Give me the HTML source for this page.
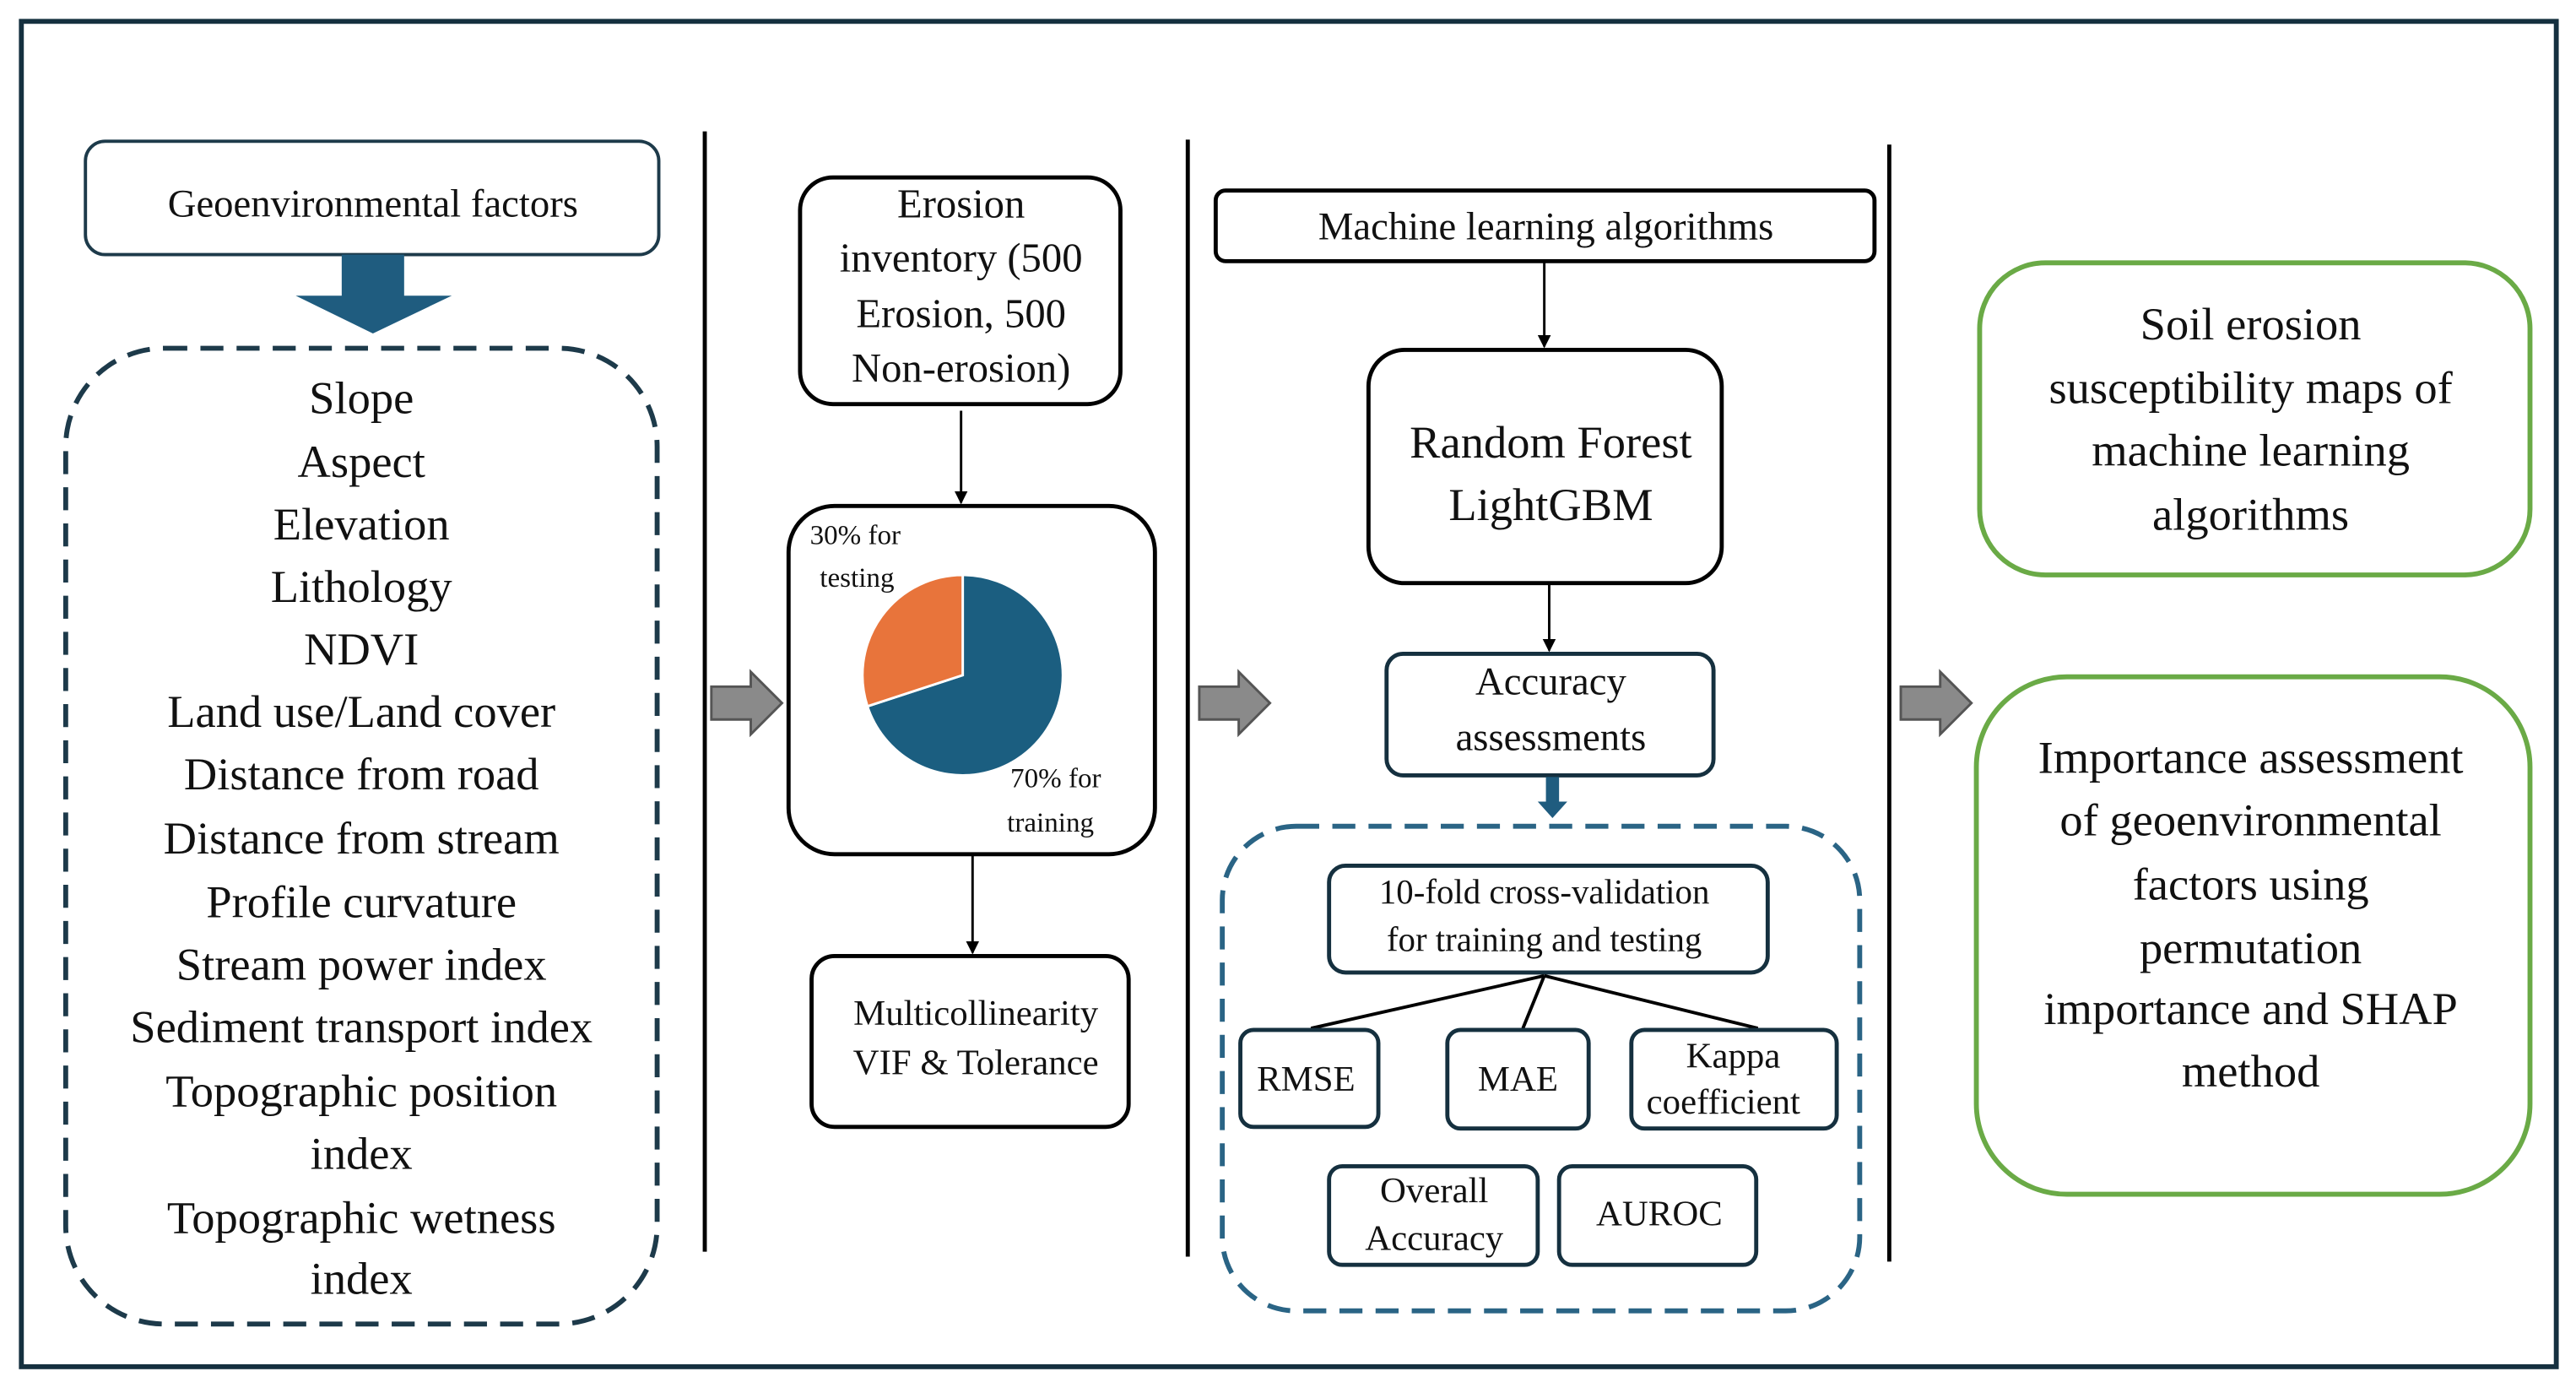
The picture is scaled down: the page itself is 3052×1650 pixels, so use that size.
<!DOCTYPE html>
<html><head><style>html,body{margin:0;padding:0;background:#fff}svg{display:block}text{font-family:"Liberation Serif",serif;fill:#111}</style></head>
<body>
<svg width="3052" height="1650" viewBox="0 0 1568 848" preserveAspectRatio="none" xmlns="http://www.w3.org/2000/svg">
<defs>
<marker id="ah" markerWidth="8" markerHeight="8" refX="7" refY="4" orient="auto" markerUnits="userSpaceOnUse"><path d="M0,0 L8,4 L0,8 Z" fill="#000"/></marker>
<g id="garrow"><path d="M0,-10 L24,-10 L24,-19 L43,0 L24,19 L24,10 L0,10 Z" fill="#8a8a8a" stroke="#555" stroke-width="1.5"/></g>
</defs>
<rect x="13" y="13" width="1543" height="819" fill="none" stroke="#15303f" stroke-width="3"/>
<g stroke="#000" stroke-width="2.5">
<line x1="429" y1="80" x2="429" y2="762"/><line x1="723" y1="85" x2="723" y2="765"/><line x1="1150" y1="88" x2="1150" y2="768"/>
</g>
<g text-anchor="middle" dominant-baseline="central">
<rect x="52" y="86" width="349" height="69" rx="12" fill="none" stroke="#1d3a4a" stroke-width="2"/>
<text x="227" y="124" font-size="24">Geoenvironmental factors</text>
<path d="M208,155 H246 V180 H275 L227,203 L180,180 H208 Z" fill="#1f5c7f"/>
<rect x="40" y="212" width="360" height="594" rx="60" fill="none" stroke="#1d3a4a" stroke-width="3" stroke-dasharray="14 8"/>
<g font-size="28">
<text x="220" y="242">Slope</text><text x="220" y="281">Aspect</text><text x="220" y="319">Elevation</text><text x="220" y="357">Lithology</text><text x="220" y="395">NDVI</text><text x="220" y="433">Land use/Land cover</text><text x="220" y="471">Distance from road</text><text x="220" y="510">Distance from stream</text><text x="220" y="549">Profile curvature</text><text x="220" y="587">Stream power index</text><text x="220" y="625">Sediment transport index</text><text x="220" y="664">Topographic position</text><text x="220" y="702">index</text><text x="220" y="741">Topographic wetness</text><text x="220" y="778">index</text>
</g>
<rect x="487" y="108" width="195" height="138" rx="20" fill="none" stroke="#000" stroke-width="2.5"/>
<g font-size="25"><text x="585" y="124">Erosion</text><text x="585" y="157">inventory (500</text><text x="585" y="191">Erosion, 500</text><text x="585" y="224">Non-erosion)</text></g>
<line x1="585" y1="250" x2="585" y2="306" stroke="#000" stroke-width="1.5" marker-end="url(#ah)"/>
<rect x="480" y="308" width="223" height="212" rx="28" fill="none" stroke="#000" stroke-width="2.5"/>
<path d="M586,411 L586,350 A61,61 0 1 1 528,430 Z" fill="#1b5e80" stroke="#fff" stroke-width="1.5"/>
<path d="M586,411 L528,430 A61,61 0 0 1 586,350 Z" fill="#e8743b" stroke="#fff" stroke-width="1.5"/>
<g font-size="17" text-anchor="start"><text x="493" y="326">30% for</text><text x="499" y="352">testing</text><text x="615" y="474">70% for</text><text x="613" y="501">training</text></g>
<line x1="592" y1="520" x2="592" y2="580" stroke="#000" stroke-width="1.5" marker-end="url(#ah)"/>
<rect x="494" y="582" width="193" height="104" rx="14" fill="none" stroke="#000" stroke-width="2.5"/>
<g font-size="22"><text x="594" y="617">Multicollinearity</text><text x="594" y="647">VIF &amp; Tolerance</text></g>
<use href="#garrow" x="433" y="428"/><use href="#garrow" x="730" y="428"/><use href="#garrow" x="1157" y="428"/>
<rect x="740" y="116" width="401" height="43" rx="6" fill="none" stroke="#000" stroke-width="2.5"/>
<text x="941" y="138" font-size="24">Machine learning algorithms</text>
<line x1="940" y1="160" x2="940" y2="211" stroke="#000" stroke-width="1.5" marker-end="url(#ah)"/>
<rect x="833" y="213" width="215" height="142" rx="22" fill="none" stroke="#000" stroke-width="2.5"/>
<g font-size="28"><text x="944" y="269">Random Forest</text><text x="944" y="307">LightGBM</text></g>
<line x1="943" y1="355" x2="943" y2="396" stroke="#000" stroke-width="1.5" marker-end="url(#ah)"/>
<rect x="844" y="398" width="199" height="74" rx="10" fill="none" stroke="#15303f" stroke-width="2.5"/>
<g font-size="24"><text x="944" y="415">Accuracy</text><text x="944" y="449">assessments</text></g>
<path d="M941,473 H949 V488 H954 L945,498 L936,488 H941 Z" fill="#1f5c7f"/>
<rect x="744" y="503" width="388" height="295" rx="45" fill="none" stroke="#2a6485" stroke-width="3" stroke-dasharray="14 8"/>
<rect x="809" y="527" width="267" height="65" rx="10" fill="none" stroke="#15303f" stroke-width="2.5"/>
<g font-size="21"><text x="940" y="543">10-fold cross-validation</text><text x="940" y="572">for training and testing</text></g>
<g stroke="#000" stroke-width="2"><line x1="940" y1="594" x2="798" y2="626"/><line x1="940" y1="594" x2="927" y2="626"/><line x1="940" y1="594" x2="1070" y2="626"/></g>
<g fill="none" stroke="#15303f" stroke-width="2.5">
<rect x="755" y="627" width="84" height="59" rx="8"/><rect x="881" y="627" width="86" height="60" rx="8"/><rect x="993" y="627" width="125" height="60" rx="8"/>
<rect x="809" y="710" width="127" height="60" rx="8"/><rect x="949" y="710" width="120" height="60" rx="8"/>
</g>
<g font-size="22"><text x="795" y="657">RMSE</text><text x="924" y="657">MAE</text><text x="1055" y="643">Kappa</text><text x="1049" y="671">coefficient</text>
<text x="873" y="725">Overall</text><text x="873" y="754">Accuracy</text><text x="1010" y="739">AUROC</text></g>
<rect x="1205" y="160" width="335" height="190" rx="40" fill="none" stroke="#6aaa46" stroke-width="3"/>
<g font-size="28"><text x="1370" y="197">Soil erosion</text><text x="1370" y="236">susceptibility maps of</text><text x="1370" y="274">machine learning</text><text x="1370" y="313">algorithms</text></g>
<rect x="1203" y="412" width="337" height="315" rx="55" fill="none" stroke="#6aaa46" stroke-width="3"/>
<g font-size="28"><text x="1370" y="461">Importance assessment</text><text x="1370" y="499">of geoenvironmental</text><text x="1370" y="538">factors using</text><text x="1370" y="577">permutation</text><text x="1370" y="614">importance and SHAP</text><text x="1370" y="652">method</text></g>
</g>
</svg>
</body></html>
